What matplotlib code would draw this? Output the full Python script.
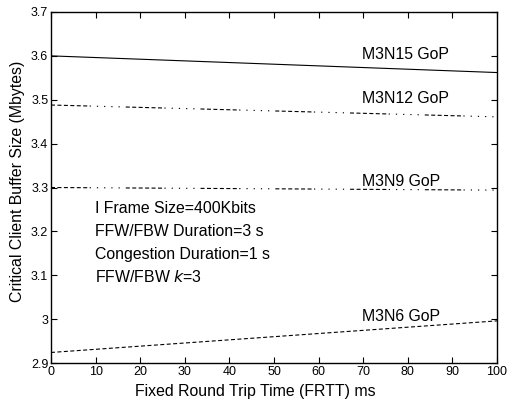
import matplotlib
matplotlib.use("Agg")
import matplotlib.pyplot as plt
from matplotlib.ticker import FuncFormatter

plt.rcParams['font.family'] = ['Liberation Sans', 'DejaVu Sans']

frtt = [0, 100]
m3n15 = [3.600, 3.562]
m3n12 = [3.488, 3.461]
m3n9 = [3.300, 3.294]
m3n6 = [2.924, 2.996]

gop_labels = ["M3N15 GoP", "M3N12 GoP", "M3N9 GoP", "M3N6 GoP"]
label_y = [3.603, 3.503, 3.313, 3.005]
notes = ["I Frame Size=400Kbits", "FFW/FBW Duration=3 s",
         "Congestion Duration=1 s", "FFW/FBW $\\it{k}$=3"]
note_y = [3.253, 3.200, 3.147, 3.096]

# dashes then dots, as in the scanned figure
mixed = (3.6, 2.2) * 6 + (1.1, 5.4) * 5

fig = plt.figure(figsize=(5.08, 4.08), dpi=100)
ax = fig.add_axes([51 / 508, 1 - 363 / 408, 446 / 508, 351 / 408])

ax.plot(frtt, m3n15, color='black', lw=0.8)
ax.plot(frtt, m3n12, color='black', lw=0.8, dashes=mixed)
ax.plot(frtt, m3n9, color='black', lw=0.8, dashes=mixed)
ax.plot(frtt, m3n6, color='black', lw=0.8, dashes=(3.6, 2.2))

for lab, yy in zip(gop_labels, label_y):
    ax.text(69.8, yy, lab, fontsize=11.4, va='center', ha='left')
for note, yy in zip(notes, note_y):
    ax.text(9.8, yy, note, fontsize=11.4, va='center', ha='left')

ax.set_xlim(0, 100)
ax.set_ylim(2.9, 3.7)
ax.set_xticks(range(0, 101, 10))
ax.set_yticks([2.9 + 0.1 * i for i in range(9)])
ax.yaxis.set_major_formatter(FuncFormatter(lambda v, p: "3" if abs(v - 3) < 1e-9 else f"{v:.1f}"))
ax.tick_params(direction='in', top=True, right=True, labelsize=9, length=4, pad=2, width=0.8)
for s in ax.spines.values():
    s.set_linewidth(1.0)

ax.set_xlabel("Fixed Round Trip Time (FRTT) ms", fontsize=11.4)
ax.set_ylabel("Critical Client Buffer Size (Mbytes)", fontsize=11.4)
ax.xaxis.set_label_coords(0.458, -0.06)
ax.yaxis.set_label_coords(-0.058, 0.518)

fig.savefig("out.png", dpi=100)
